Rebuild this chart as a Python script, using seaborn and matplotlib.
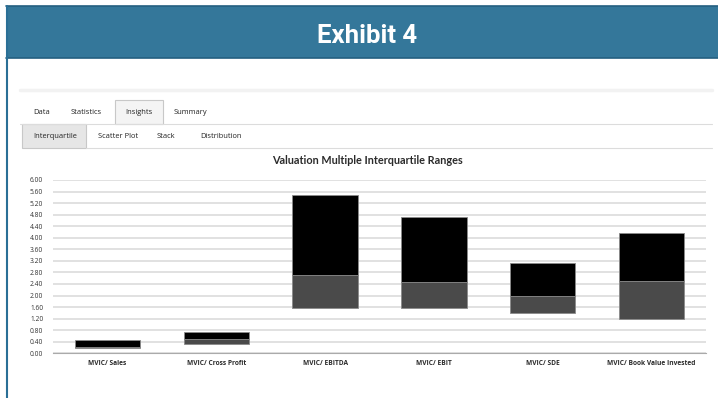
import numpy as np
import pandas as pd
import matplotlib
matplotlib.use("Agg")
import matplotlib.pyplot as plt
from matplotlib.patches import Rectangle
import seaborn as sns

# interquartile data
categories = ["MVIC/ Sales", "MVIC/ Cross Profit", "MVIC/ EBITDA",
              "MVIC/ EBIT", "MVIC/ SDE", "MVIC/ Book Value Invested"]
q1 = [0.20, 0.32, 1.58, 1.56, 1.38, 1.19]
median = [0.21, 0.49, 2.71, 2.46, 1.98, 2.51]
q3 = [0.46, 0.75, 5.48, 4.73, 3.14, 4.17]
yticks = [0.00, 0.40, 0.80, 1.20, 1.60, 2.00, 2.40, 2.80, 3.20, 3.60,
          4.00, 4.40, 4.80, 5.20, 5.60, 6.00]

df = pd.DataFrame({"cat": categories, "q1": q1, "median": median, "q3": q3})
df["lower"] = df["median"] - df["q1"]
df["upper"] = df["q3"] - df["median"]

sns.set_style("white")
plt.rcParams["font.family"] = ["Open Sans", "DejaVu Sans"]

W, H = 718, 398
fig = plt.figure(figsize=(W / 100, H / 100), dpi=100)

def fx(px):
    return px / W

def fy(py):
    return 1 - py / H

# header banner
fig.patches.append(Rectangle((fx(6), fy(58)), fx(712), 52 / H, transform=fig.transFigure,
                             facecolor="#34779a", edgecolor="none", zorder=0))
for yy in (6, 58):
    fig.add_artist(plt.Line2D([fx(6), 1], [fy(yy), fy(yy)], color="#245f80", lw=1.2))
fig.add_artist(plt.Line2D([fx(6.5), fx(6.5)], [0, fy(6)], color="#2a6f96", lw=1.5))
fig.text(fx(367), fy(36), "Exhibit 4", ha="center", va="center", color="white",
         fontsize=18.5, fontweight="bold", fontstretch="condensed",
         family=["Liberation Sans Narrow", "Roboto", "DejaVu Sans"])

# faint band and tab rows
fig.add_artist(plt.Line2D([fx(20), fx(712)], [fy(90), fy(90)], color="#f2f2f2", lw=2.5))
fig.patches.append(Rectangle((fx(115), fy(124)), fx(48), 24 / H, transform=fig.transFigure,
                             facecolor="#f4f4f4", edgecolor="#c8c8c8", lw=0.8))
fig.patches.append(Rectangle((fx(22), fy(148)), fx(64), 24 / H, transform=fig.transFigure,
                             facecolor="#e6e6e6", edgecolor="#c8c8c8", lw=0.8))
fig.add_artist(plt.Line2D([fx(20), fx(712)], [fy(124), fy(124)], color="#dcdcdc", lw=0.8))
fig.add_artist(plt.Line2D([fx(86), fx(712)], [fy(148), fy(148)], color="#dcdcdc", lw=0.8))

tab_kw = dict(fontsize=5.4, color="#222222", va="center", ha="center")
for label, xc in [("Data", 42), ("Statistics", 86), ("Insights", 139), ("Summary", 190)]:
    fig.text(fx(xc), fy(112), label, **tab_kw)
for label, xc in [("Interquartile", 55), ("Scatter Plot", 118), ("Stack", 166), ("Distribution", 221)]:
    fig.text(fx(xc), fy(137), label, **tab_kw)

fig.text(fx(367), fy(160), "Valuation Multiple Interquartile Ranges", ha="center", va="center",
         fontsize=7.8, fontweight="bold", color="#2b2b2b", family=["Lato", "DejaVu Sans"])

# chart
ax = fig.add_axes([fx(53), fy(353.3), fx(706 - 53), (353.3 - 180) / H])

sns.barplot(data=df, x="cat", y="lower", color="#4a4a4a", width=0.6, saturation=1,
            edgecolor="#8a8a8a", linewidth=0.6, ax=ax, zorder=3)
n = len(df)
for patch, b in zip(ax.patches[:n], df["q1"]):
    patch.set_y(b)
sns.barplot(data=df, x="cat", y="upper", color="#000000", width=0.6, saturation=1,
            edgecolor="#8a8a8a", linewidth=0.6, ax=ax, zorder=3)
for patch, b in zip(ax.patches[n:], df["median"]):
    patch.set_y(b)

ax.set_ylim(0, 6.0)
ax.set_xlim(-0.5, n - 0.5)
ax.set_yticks(yticks)
ax.set_yticklabels(["%.2f" % t for t in yticks], fontsize=4.8, color="#333333")
ax.yaxis.grid(True, color="#d9d9d9", lw=1.1, zorder=0)
ax.set_axisbelow(True)
ax.tick_params(axis="y", length=0, pad=7)
ax.set_xticks(range(n))
ax.set_xticklabels(categories, fontsize=4.8, color="#2b2b2b", fontweight="bold")
ax.set_xticks(np.arange(-0.5, n, 1.0), minor=True)
ax.tick_params(axis="x", which="major", length=0, pad=5)
ax.tick_params(axis="x", which="minor", length=5, color="#aaaaaa", width=0.8, direction="out")
ax.set_xlabel("")
ax.set_ylabel("")
for s in ("top", "right", "left"):
    ax.spines[s].set_visible(False)
ax.spines["bottom"].set_color("#aaaaaa")
ax.spines["bottom"].set_linewidth(0.8)

fig.savefig("out.png", dpi=100)
